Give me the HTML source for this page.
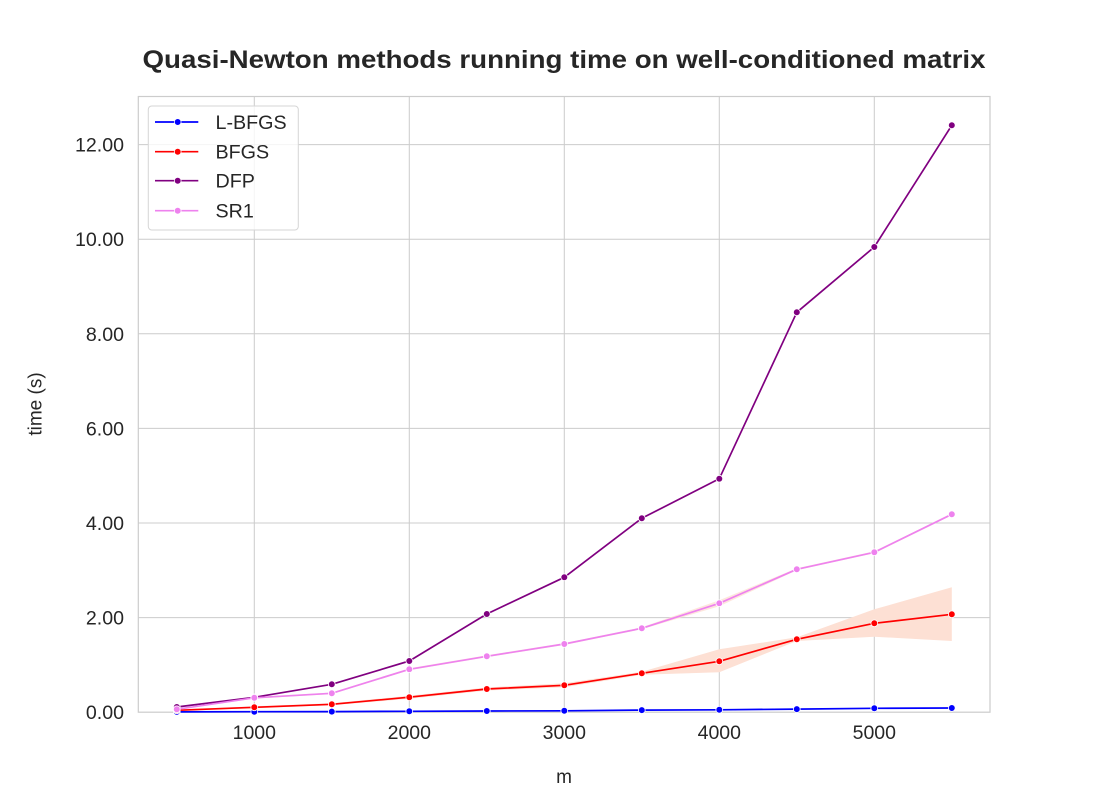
<!DOCTYPE html>
<html>
<head>
<meta charset="utf-8">
<style>
html,body{margin:0;padding:0;background:#fff;}
svg{display:block;}
text{font-family:"Liberation Sans","DejaVu Sans",sans-serif;fill:#262626;}
</style>
</head>
<body>
<svg width="1100" height="800" viewBox="0 0 1100 800" xmlns="http://www.w3.org/2000/svg">
<rect x="0" y="0" width="1100" height="800" fill="#fff"/>
<!-- title -->
<text x="564" y="68" text-anchor="middle" font-size="25" font-weight="bold" textLength="843" lengthAdjust="spacingAndGlyphs">Quasi-Newton methods running time on well-conditioned matrix</text>

<!-- grid -->
<g stroke="#cccccc" stroke-width="1">
  <line x1="254.3" y1="96.5" x2="254.3" y2="712.2"/>
  <line x1="409.3" y1="96.5" x2="409.3" y2="712.2"/>
  <line x1="564.3" y1="96.5" x2="564.3" y2="712.2"/>
  <line x1="719.3" y1="96.5" x2="719.3" y2="712.2"/>
  <line x1="874.3" y1="96.5" x2="874.3" y2="712.2"/>
  <line x1="138.3" y1="617.6" x2="990" y2="617.6"/>
  <line x1="138.3" y1="523" x2="990" y2="523"/>
  <line x1="138.3" y1="428.4" x2="990" y2="428.4"/>
  <line x1="138.3" y1="333.8" x2="990" y2="333.8"/>
  <line x1="138.3" y1="239.2" x2="990" y2="239.2"/>
  <line x1="138.3" y1="144.6" x2="990" y2="144.6"/>
</g>

<!-- bands -->
<polygon fill="#fde0d4" points="176.8,709.8 254.3,706.3 331.8,703.3 409.3,695.7 486.8,687.5 564.3,683.3 641.8,671.8 719.3,649.3 796.8,637.3 874.3,609.3 951.8,587.3 951.8,641 874.3,636.7 796.8,641 719.3,672.3 641.8,674.8 564.3,687.3 486.8,690.5 409.3,698.7 331.8,705.3 254.3,708.3 176.8,710.8"/>
<polygon fill="#fde0d4" opacity="0.8" points="176.8,708.8 254.3,697 331.8,692.5 409.3,668.3 486.8,655.3 564.3,643 641.8,627.3 719.3,600.3 796.8,568.3 874.3,551.3 951.8,513.3 951.8,515.3 874.3,553.3 796.8,570.3 719.3,606.3 641.8,629.3 564.3,645 486.8,657.3 409.3,670.3 331.8,694.1 254.3,698.6 176.8,709.8"/>

<!-- spines -->
<rect x="138.3" y="96.5" width="851.7" height="615.7" fill="none" stroke="#cccccc" stroke-width="1.2"/>

<!-- series -->
<g fill="none" stroke-width="1.7" stroke-linejoin="round">
  <polyline stroke="#0000ff" points="176.8,711.9 254.3,711.7 331.8,711.6 409.3,711.3 486.8,711.0 564.3,710.8 641.8,710.1 719.3,709.8 796.8,709.1 874.3,708.3 951.8,708.0"/>
  <polyline stroke="#ff0000" points="176.8,710.3 254.3,707.3 331.8,704.3 409.3,697.2 486.8,689 564.3,685.3 641.8,673.3 719.3,661.3 796.8,639.3 874.3,623.3 951.8,614.3"/>
  <polyline stroke="#800080" points="176.8,707 254.3,697.3 331.8,684.3 409.3,661 486.8,614 564.3,577.3 641.8,518.3 719.3,478.7 796.8,312.3 874.3,247 951.8,125.3"/>
  <polyline stroke="#ee82ee" points="176.8,709.3 254.3,697.8 331.8,693.3 409.3,669.3 486.8,656.3 564.3,644 641.8,628.3 719.3,603.3 796.8,569.3 874.3,552.3 951.8,514.3"/>
</g>
<g stroke="#fff" stroke-width="0.8">
  <g fill="#0000ff">
    <circle cx="176.8" cy="711.9" r="3.4"/><circle cx="254.3" cy="711.7" r="3.4"/><circle cx="331.8" cy="711.6" r="3.4"/><circle cx="409.3" cy="711.3" r="3.4"/><circle cx="486.8" cy="711.0" r="3.4"/><circle cx="564.3" cy="710.8" r="3.4"/><circle cx="641.8" cy="710.1" r="3.4"/><circle cx="719.3" cy="709.8" r="3.4"/><circle cx="796.8" cy="709.1" r="3.4"/><circle cx="874.3" cy="708.3" r="3.4"/><circle cx="951.8" cy="708.0" r="3.4"/>
  </g>
  <g fill="#ff0000">
    <circle cx="176.8" cy="710.3" r="3.4"/><circle cx="254.3" cy="707.3" r="3.4"/><circle cx="331.8" cy="704.3" r="3.4"/><circle cx="409.3" cy="697.2" r="3.4"/><circle cx="486.8" cy="689" r="3.4"/><circle cx="564.3" cy="685.3" r="3.4"/><circle cx="641.8" cy="673.3" r="3.4"/><circle cx="719.3" cy="661.3" r="3.4"/><circle cx="796.8" cy="639.3" r="3.4"/><circle cx="874.3" cy="623.3" r="3.4"/><circle cx="951.8" cy="614.3" r="3.4"/>
  </g>
  <g fill="#800080">
    <circle cx="176.8" cy="707" r="3.4"/><circle cx="254.3" cy="697.3" r="3.4"/><circle cx="331.8" cy="684.3" r="3.4"/><circle cx="409.3" cy="661" r="3.4"/><circle cx="486.8" cy="614" r="3.4"/><circle cx="564.3" cy="577.3" r="3.4"/><circle cx="641.8" cy="518.3" r="3.4"/><circle cx="719.3" cy="478.7" r="3.4"/><circle cx="796.8" cy="312.3" r="3.4"/><circle cx="874.3" cy="247" r="3.4"/><circle cx="951.8" cy="125.3" r="3.4"/>
  </g>
  <g fill="#ee82ee">
    <circle cx="176.8" cy="709.3" r="3.4"/><circle cx="254.3" cy="697.8" r="3.4"/><circle cx="331.8" cy="693.3" r="3.4"/><circle cx="409.3" cy="669.3" r="3.4"/><circle cx="486.8" cy="656.3" r="3.4"/><circle cx="564.3" cy="644" r="3.4"/><circle cx="641.8" cy="628.3" r="3.4"/><circle cx="719.3" cy="603.3" r="3.4"/><circle cx="796.8" cy="569.3" r="3.4"/><circle cx="874.3" cy="552.3" r="3.4"/><circle cx="951.8" cy="514.3" r="3.4"/>
  </g>
</g>

<!-- y tick labels -->
<g font-size="19.6" text-anchor="end">
  <text x="124" y="719.2">0.00</text>
  <text x="124" y="624.6">2.00</text>
  <text x="124" y="530">4.00</text>
  <text x="124" y="435.4">6.00</text>
  <text x="124" y="340.8">8.00</text>
  <text x="124" y="246.2">10.00</text>
  <text x="124" y="151.6">12.00</text>
</g>
<!-- x tick labels -->
<g font-size="19.5" text-anchor="middle">
  <text x="254.3" y="739">1000</text>
  <text x="409.3" y="739">2000</text>
  <text x="564.3" y="739">3000</text>
  <text x="719.3" y="739">4000</text>
  <text x="874.3" y="739">5000</text>
</g>
<!-- axis labels -->
<text x="564" y="783" font-size="19" text-anchor="middle">m</text>
<text transform="translate(41.5,404) rotate(-90)" font-size="19" text-anchor="middle">time (s)</text>

<!-- legend -->
<rect x="148.3" y="106" width="150" height="124" rx="3.5" ry="3.5" fill="#ffffff" fill-opacity="0.8" stroke="#d6d6d6" stroke-width="1"/>
<g stroke-width="1.7">
  <line x1="155" y1="122" x2="198.3" y2="122" stroke="#0000ff"/>
  <line x1="155" y1="151.7" x2="198.3" y2="151.7" stroke="#ff0000"/>
  <line x1="155" y1="180.7" x2="198.3" y2="180.7" stroke="#800080"/>
  <line x1="155" y1="210.7" x2="198.3" y2="210.7" stroke="#ee82ee"/>
</g>
<g stroke="#fff" stroke-width="0.8">
  <circle cx="177.7" cy="122" r="3.4" fill="#0000ff"/>
  <circle cx="177.7" cy="151.7" r="3.4" fill="#ff0000"/>
  <circle cx="177.7" cy="180.7" r="3.4" fill="#800080"/>
  <circle cx="177.7" cy="210.7" r="3.4" fill="#ee82ee"/>
</g>
<g font-size="19.7">
  <text x="215.5" y="129">L-BFGS</text>
  <text x="215.5" y="158.7">BFGS</text>
  <text x="215.5" y="187.7">DFP</text>
  <text x="215.5" y="217.7">SR1</text>
</g>
</svg>
</body>
</html>
